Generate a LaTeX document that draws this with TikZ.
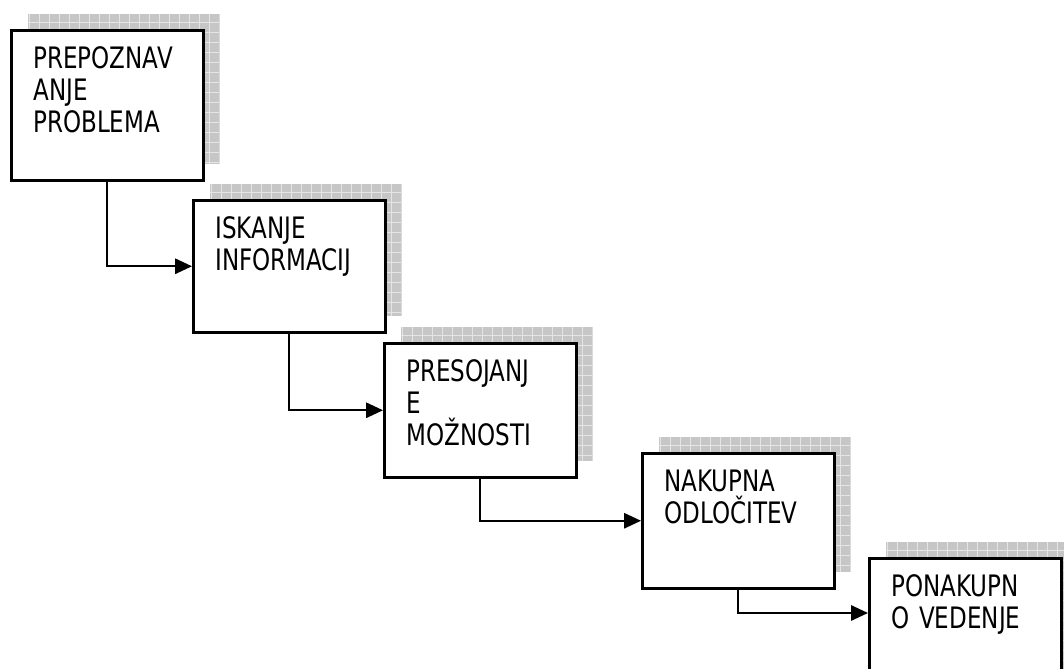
\documentclass[tikz,border=0pt]{standalone}
\usepackage{fontspec}
\setmainfont{DejaVu Sans}[FakeStretch=0.78]
\usepackage{tikz}
\usetikzlibrary{arrows.meta, positioning, shadows}

\begin{document}
\begin{tikzpicture}[
        stage/.style={rectangle, draw, line width=1.8pt, fill=white, anchor=north west,
            minimum width=4.8cm, inner xsep=0.55cm, inner ysep=0pt, text width=3.7cm,
            align=left, text height=0.95cm,
            font=\fontsize{21}{22.8}\selectfont,
            general shadow={shadow xshift=0.41cm, shadow yshift=0.41cm, fill=gray!45,
                path picture={\draw [gray!20, line width=0.35pt, step=0.25cm]
                    (path picture bounding box.south west) grid (path picture bounding box.north east);}}},
        line/.style={draw, line width=1.4pt, -{Triangle[length=0.42cm, width=0.38cm]}}]

        \useasboundingbox (0,0) rectangle (26.6,-16.725);

        % Stages of the buying process
        \node [stage, text depth=2.8cm] (recog) at (0.25,-0.725) {PREPOZNAV\\ANJE\\PROBLEMA};
        \node [stage, text depth=2.35cm] (search) at (4.8,-4.975) {ISKANJE\\INFORMACIJ};
        \node [stage, text depth=2.4cm] (judge) at (9.575,-8.55) {PRESOJANJ\\E\\MOŽNOSTI};
        \node [stage, text depth=2.425cm] (decide) at (16.025,-11.3) {NAKUPNA\\ODLOČITEV};
        \node [stage, text depth=2.55cm] (after) at (21.7,-13.925) {PONAKUPN\\O VEDENJE};

        \coordinate (afterin) at ([yshift=-1.4cm]after.north west);

        % Connections
        \path [line] (recog.south) |- (search.west);
        \path [line] (search.south) |- (judge.west);
        \path [line] (judge.south) |- (decide.west);
        \path [line] (decide.south) |- (afterin);

    \end{tikzpicture}
\end{document}
